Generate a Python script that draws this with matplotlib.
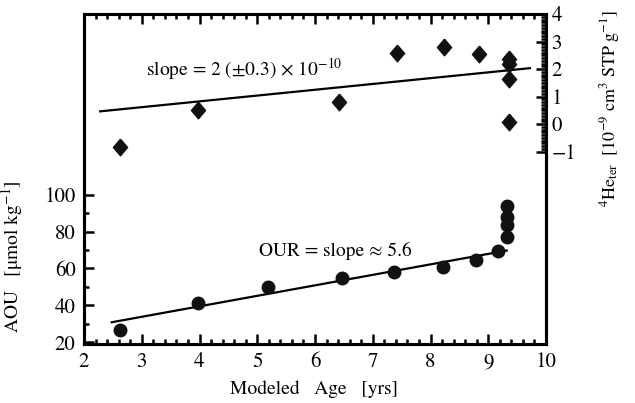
import matplotlib
matplotlib.use('Agg')
import matplotlib.pyplot as plt
import numpy as np
from matplotlib.ticker import FixedLocator

plt.rcParams['font.family'] = ['STIXGeneral', 'DejaVu Serif']
plt.rcParams['mathtext.fontset'] = 'stix'
plt.rcParams['font.size'] = 14

# AOU samples (left axis)
aou_age = [2.63, 3.97, 5.19, 6.47, 7.37, 8.22, 8.79, 9.17, 9.33, 9.33, 9.33, 9.33]
aou_val = [26.5, 41.0, 49.7, 54.6, 57.8, 61.0, 64.3, 69.2, 94.0, 88.0, 83.5, 77.0]
aou_fit_x = [2.48, 9.32]
aou_fit_y = [30.8, 69.7]

# 4He_ter samples (right axis)
he_age = [2.63, 3.97, 6.42, 7.42, 8.24, 8.84, 9.36, 9.36, 9.36, 9.36]
he_val = [-0.85, 0.50, 0.79, 2.58, 2.80, 2.54, 2.38, 2.18, 1.65, 0.09]
he_fit_x = [2.28, 9.72]
he_fit_y = [0.46, 2.03]

fig = plt.figure(figsize=(6.35, 4.03), dpi=100)
ax = fig.add_axes([84 / 635, 59 / 403, 462 / 635, 330 / 403])
ax2 = ax.twinx()

# diamond a bit narrower than tall
diamond = [(0, 1), (0.85, 0), (0, -1), (-0.85, 0), (0, 1)]

ax.plot(aou_fit_x, aou_fit_y, 'k-', lw=1.6)
ax.plot(aou_age, aou_val, 'o', color='#111111', ms=9, mec='#111111')
ax2.plot(he_fit_x, he_fit_y, 'k-', lw=1.6)
ax2.plot(he_age, he_val, marker=diamond, ls='none', color='#111111', ms=12)

ax.set_xlim(2, 10)
ax.set_ylim(19, 198)
ax2.set_ylim(-8, 4)

ax.set_xticks(np.arange(2, 11, 1))
ax.xaxis.set_minor_locator(FixedLocator(np.arange(2, 10.01, 0.2)))
ax.set_yticks([20, 40, 60, 80, 100])
ax.yaxis.set_minor_locator(FixedLocator([30, 50, 70, 90]))
ax2.set_yticks([-1, 0, 1, 2, 3, 4])
ax2.set_yticklabels(['\u22121', '0', '1', '2', '3', '4'])
ax2.yaxis.set_minor_locator(FixedLocator(np.arange(-1, 4.001, 0.1)))

ax.tick_params(which='both', direction='in', top=True, right=False, width=1.8, labelsize=15)
ax.tick_params(which='major', length=7, pad=6)
ax.tick_params(which='minor', length=3.5)
ax2.tick_params(which='both', direction='in', width=1.8, labelsize=15)
ax2.tick_params(which='major', length=7, pad=4)
ax2.tick_params(which='minor', length=3.5)

for a in (ax, ax2):
    for s in a.spines.values():
        s.set_linewidth(2.2)

ax.set_xlabel('Modeled   Age   [yrs]')
ax.xaxis.set_label_coords(0.498, -0.109)
ax.set_ylabel('AOU   [μmol kg$^{-1}$]')
ax.yaxis.set_label_coords(-0.128, 0.264)
ax2.set_ylabel(r'$^{4}$He$_{\rm ter}$  [10$^{-9}$ cm$^{3}$ STP g$^{-1}$]', rotation=90, fontsize=13)
ax2.yaxis.set_label_coords(1.112, 0.715)

ax2.text(3.07, 1.99, r'slope = 2 ($\pm$0.3) $\times$ 10$^{-10}$', va='center', ha='left')
ax.text(5.03, 69.2, 'OUR = slope \u2248 5.6', va='center', ha='left')

fig.savefig('out.png', dpi=100)
